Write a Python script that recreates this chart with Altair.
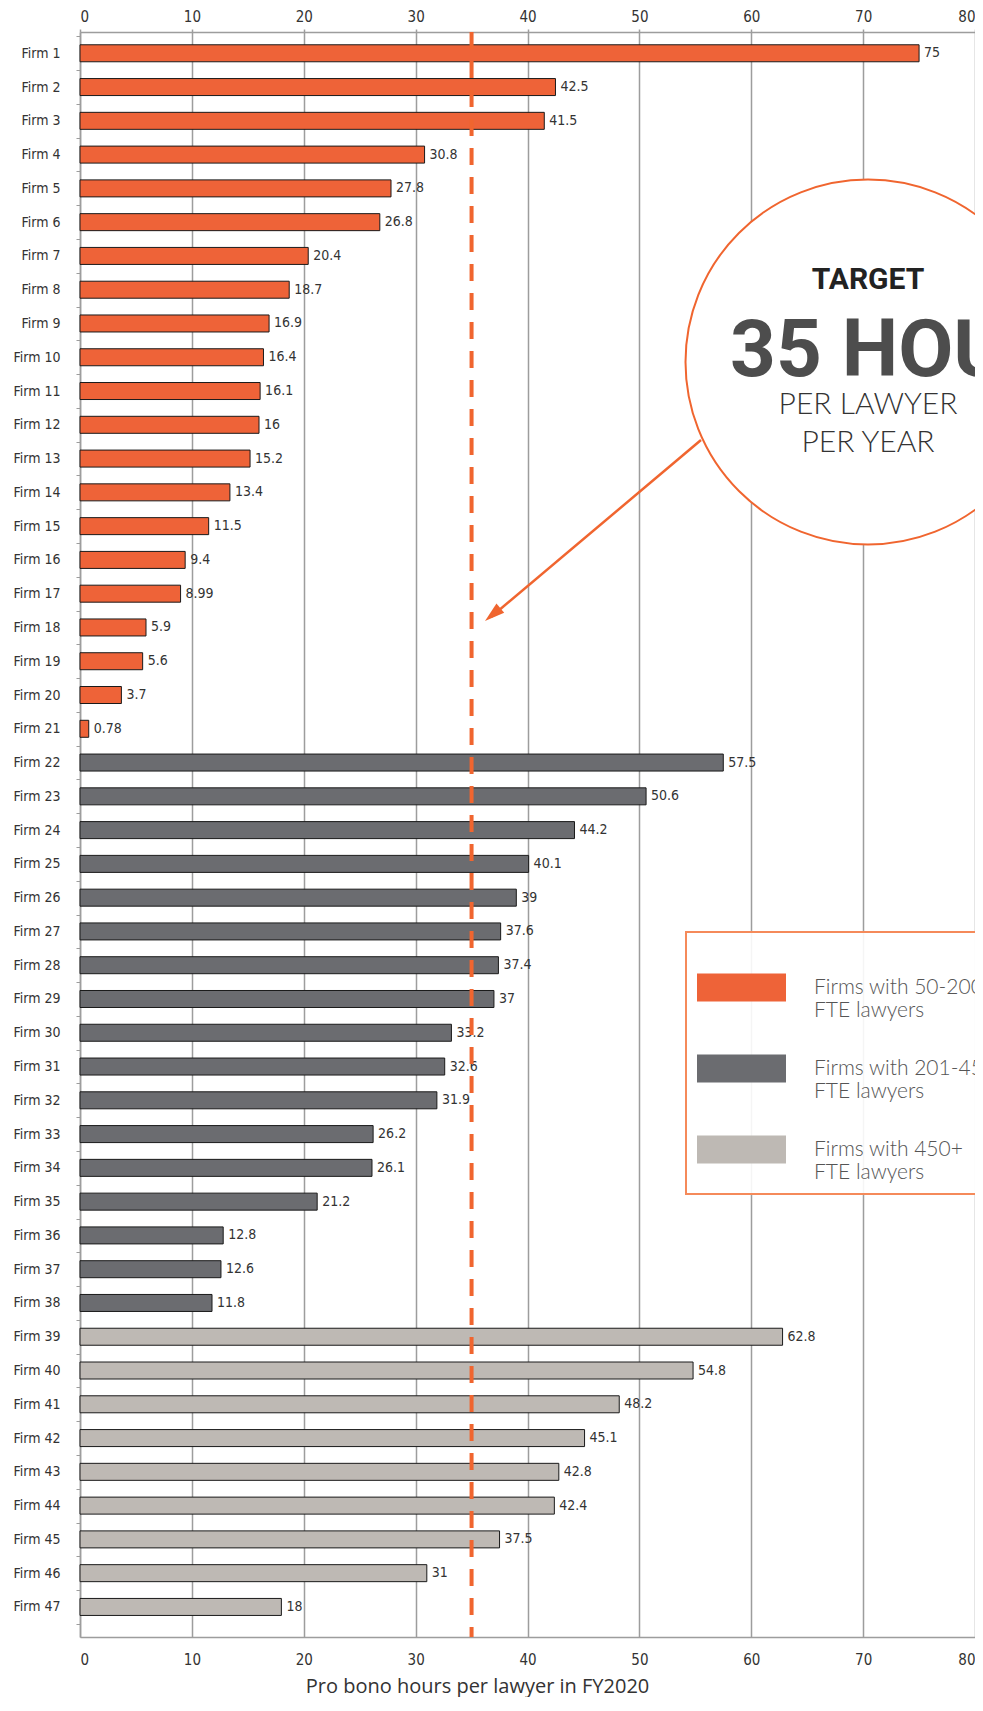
import altair as alt
import pandas as pd

# ---------------- data ----------------
small_firm_hours = [75, 42.5, 41.5, 30.8, 27.8, 26.8, 20.4, 18.7, 16.9, 16.4, 16.1,
                    16, 15.2, 13.4, 11.5, 9.4, 8.99, 5.9, 5.6, 3.7, 0.78]
mid_firm_hours = [57.5, 50.6, 44.2, 40.1, 39, 37.6, 37.4, 37, 33.2, 32.6, 31.9,
                  26.2, 26.1, 21.2, 12.8, 12.6, 11.8]
large_firm_hours = [62.8, 54.8, 48.2, 45.1, 42.8, 42.4, 37.5, 31, 18]
group_names = ["Firms with 50-200 FTE lawyers",
               "Firms with 201-450 FTE lawyers",
               "Firms with 450+ FTE lawyers"]
group_colors = ["#EE6338", "#6B6C70", "#BEB9B4"]
x_ticks = [0, 10, 20, 30, 40, 50, 60, 70, 80]
target_hours = [35]
x_title = "Pro bono hours per lawyer in FY2020"

hours = small_firm_hours + mid_firm_hours + large_firm_hours
groups = ([group_names[0]] * len(small_firm_hours) + [group_names[1]] * len(mid_firm_hours)
          + [group_names[2]] * len(large_firm_hours))
firms = [f"Firm {i + 1}" for i in range(len(hours))]
labels = [f"{v:g}" for v in hours]
df = pd.DataFrame({"firm": firms, "hours": hours, "group": groups, "label": labels})

# ---------------- style ----------------
W, H = 895, 1605
NARROW = "Liberation Sans Narrow, DejaVu Sans Condensed, Roboto, sans-serif"
LIGHT = "Lato, Open Sans, sans-serif"
ORANGE = "#F0652F"
GRID = "#9d9d9d"

xscale = alt.Scale(domain=[0, 80], nice=False, zero=True)
yscale = alt.Scale(domain=firms, paddingInner=0, paddingOuter=0.26, align=0.25)

top_axis = alt.Axis(orient="top", values=x_ticks, grid=True, gridColor=GRID, gridWidth=1.5,
                    domainColor=GRID, domainWidth=1.5, tickColor=GRID, tickWidth=1.5, tickSize=3,
                    labelFont=NARROW, labelFontSize=15, labelColor="#333", labelPadding=5,
                    title=None)
bottom_axis = alt.Axis(orient="bottom", values=x_ticks, grid=False, domainColor=GRID,
                       domainWidth=1.5, tickSize=0, labelFont=NARROW, labelFontSize=15,
                       labelColor="#333", labelPadding=15, title=x_title,
                       titleFont="Open Sans", titleFontSize=20, titleFontWeight="normal",
                       titleColor="#333", titleX=397, titleY=55, titleAlign="center",
                       titleBaseline="alphabetic")
y_axis = alt.Axis(title=None, tickBand="extent", labelFont=NARROW, labelFontSize=14,
                  labelColor="#333", labelPadding=16, tickSize=4, tickColor=GRID,
                  domainColor=GRID, domainWidth=1.5)

legend = alt.Legend(orient="none", legendX=606, legendY=900, title=None,
                    symbolType="M-1,-0.315H1V0.315H-1Z", symbolSize=7921,
                    symbolStrokeWidth=0, symbolOpacity=1,
                    labelFont=LIGHT, labelFontSize=21, labelFontWeight=300,
                    labelColor="#555", labelLimit=0, labelOffset=28,
                    labelExpr="[replace(datum.label, ' FTE lawyers', ''), 'FTE lawyers']",
                    rowPadding=3, padding=11, strokeColor="#F58A5A",
                    fillColor="rgba(255,255,255,0.9)")

base = alt.Chart(df)

bars = base.mark_bar(size=17, stroke="#1a1a1a", strokeWidth=1).encode(
    x=alt.X("hours:Q", scale=xscale, axis=top_axis),
    y=alt.Y("firm:N", sort=firms, scale=yscale, axis=y_axis),
    color=alt.Color("group:N", scale=alt.Scale(domain=group_names, range=group_colors),
                    legend=legend),
)

bar_labels = base.mark_text(align="left", baseline="middle", dx=5, font=NARROW,
                            fontSize=14, color="#333").encode(
    x=alt.X("hours:Q", scale=xscale, axis=None),
    y=alt.Y("firm:N", sort=firms, scale=yscale),
    text="label:N",
)

target_rule = alt.Chart(pd.DataFrame({"target": target_hours})).mark_rule(
    color=ORANGE, strokeWidth=4, strokeDash=[17, 12]).encode(
    x=alt.X("target:Q", scale=xscale, axis=bottom_axis),
)

one = alt.Data(values=[{}])

arrow_line = alt.Chart(one).mark_rule(color=ORANGE, strokeWidth=2.5).encode(
    x=alt.value(621), y=alt.value(408), x2=alt.value(411), y2=alt.value(585))

arrow_head = alt.Chart(one).mark_point(
    shape="M0,0L0.6,2L-0.6,2Z", size=400, angle=230, filled=True, color=ORANGE,
    opacity=1, strokeWidth=0).encode(x=alt.value(405), y=alt.value(589))

circle = alt.Chart(one).mark_point(
    shape="circle", size=365 * 365, filled=True, fill="white", stroke=ORANGE,
    strokeWidth=2, opacity=1, fillOpacity=1, strokeOpacity=1).encode(
    x=alt.value(788), y=alt.value(330))

t_target = alt.Chart(one).mark_text(
    text="TARGET", font="Roboto", fontSize=30, fontWeight="bold", color="#222",
    align="center", baseline="alphabetic").encode(x=alt.value(788), y=alt.value(257))
t_hours = alt.Chart(one).mark_text(
    text="35 HOURS", font="Roboto", fontSize=80, fontWeight="bold", color="#4D4D4D",
    align="left", baseline="alphabetic").encode(x=alt.value(650), y=alt.value(344))
t_lawyer = alt.Chart(one).mark_text(
    text="PER LAWYER", font=LIGHT, fontSize=30, fontWeight=300, color="#333",
    align="center", baseline="alphabetic").encode(x=alt.value(788), y=alt.value(382))
t_year = alt.Chart(one).mark_text(
    text="PER YEAR", font=LIGHT, fontSize=30, fontWeight=300, color="#333",
    align="center", baseline="alphabetic").encode(x=alt.value(788), y=alt.value(420))

chart = alt.layer(
    bars, bar_labels, target_rule, arrow_line, arrow_head, circle,
    t_target, t_hours, t_lawyer, t_year,
).resolve_axis(x="independent").properties(
    width=W, height=H,
    autosize=alt.AutoSizeParams(type="none"),
    padding={"left": 72, "top": 24, "right": 0, "bottom": 60},
).configure_view(stroke=None).configure_legend(strokeWidth=2)

chart.save("out.html", embed_options={"renderer": "svg", "actions": False})
